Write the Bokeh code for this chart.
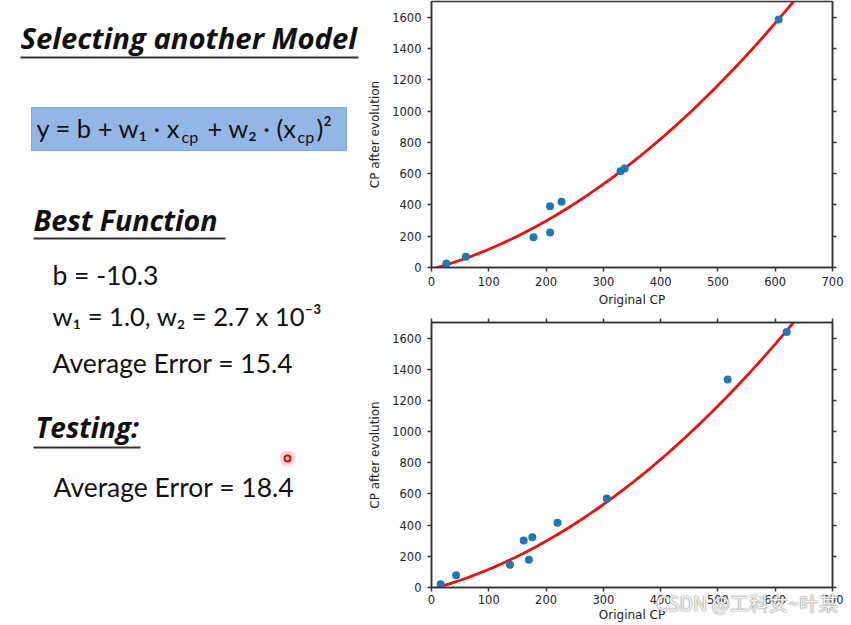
import numpy as np
from bokeh.plotting import figure
from bokeh.layouts import row, column
from bokeh.models import Range1d, LinearAxis, FixedTicker, Div
from bokeh.core.properties import value
from bokeh.embed import file_html
from bokeh.resources import INLINE

# ---- data ----
b_param = -10.3
w1_param = 1.0
w2_param = 2.7e-3
train_err = 15.4
test_err = 18.4

train_x = [26, 60, 178, 207, 207, 227, 330, 337, 606]
train_y = [25, 68, 194, 391, 223, 421, 615, 632, 1585]
test_x = [16, 43, 137, 161, 170, 176, 220, 306, 517, 620]
test_y = [21, 79, 146, 301, 178, 323, 416, 571, 1335, 1639]

x_ticks = [0, 100, 200, 300, 400, 500, 600, 700]
y_ticks = [0, 200, 400, 600, 800, 1000, 1200, 1400, 1600]
x_label = "Original CP"
y_label = "CP after evolution"
watermark = "CSDN @工科女~叶某"

# model curve from the stated parameters
curve_x = np.linspace(0, 700, 141)
curve_y = b_param + w1_param * curve_x + w2_param * curve_x ** 2

FONT = "Lato"
TFONT = "Open Sans"
INK = "#111111"
MID = 0.387  # em distance from baseline to "middle"

# ---- left slide-text panel ----
L = figure(width=362, height=625, x_range=Range1d(0, 362), y_range=Range1d(625, 0),
           x_axis_type=None, y_axis_type=None, toolbar_location=None,
           output_backend="svg", min_border=0, title=None)
L.outline_line_color = None
L.xgrid.visible = False
L.ygrid.visible = False


def txt(x, base, s, size, style="normal", font=FONT, align="left"):
    L.text(x=[x], y=[base - MID * size], text=[s], text_font=value(font),
           text_font_size=f"{size}px", text_font_style=style, text_baseline="middle",
           text_align=align, text_color=INK)


def uline(x0, x1, y):
    L.segment(x0=[x0], y0=[y], x1=[x1], y1=[y], line_color="#333333", line_width=2)


txt(20, 49, "Selecting another Model", 29.3, "bold italic", TFONT)
uline(20, 358, 57)

L.quad(left=[31], right=[346], top=[107], bottom=[150], fill_color="#93b7e5",
       line_color="#7ea6da", line_width=1)
E, SUB = 25.5, 16
txt(180, 137, "y = b + w\u2081 \u00b7 x", E, align="right")
txt(181, 142, "cp", SUB)
txt(296, 137, "+ w\u2082 \u00b7 (x", E, align="right")
txt(297, 142, "cp", SUB)
txt(316, 137, ")\u00b2", E)

txt(33, 230, "Best Function", 28.6, "bold italic", TFONT)
uline(33, 225, 238)

S = 26.5
txt(52, 285, f"b = {b_param}", S)
txt(52, 325, "w\u2081 = 1.0, w\u2082 = 2.7 x 10\u207b\u00b3", 25.6)
txt(52, 373, f"Average Error = {train_err}", S)

txt(35, 437, "Testing:", 28, "bold italic", TFONT)
uline(33, 140, 447)

txt(53, 497, f"Average Error = {test_err}", S)

# laser pointer dot
L.scatter(x=[287], y=[458], size=16, fill_color="#ff2020", fill_alpha=0.18, line_color=None)
L.scatter(x=[287], y=[458], size=6, fill_color=None, line_color="#e00000", line_width=2)


# ---- chart panels ----
def make_plot(px, py, height, top_border, bottom_border, top_axis, lab_so, axlab_so):
    p = figure(width=489, height=height, x_range=Range1d(0, 700), y_range=Range1d(0, 1700),
               toolbar_location=None, output_backend="svg", title=None,
               min_border_left=69, min_border_right=19,
               min_border_top=top_border, min_border_bottom=bottom_border)
    p.xgrid.visible = False
    p.ygrid.visible = False
    p.outline_line_color = "#333333"
    p.outline_line_width = 1.5
    p.background_fill_color = "white"
    p.border_fill_color = "white"

    p.line(curve_x, curve_y, line_color="#e8110f", line_width=2.8)
    p.scatter(px, py, size=8, fill_color="#1f77b4", line_color=None)

    xa = p.xaxis[0]
    ya = p.yaxis[0]
    extra = []
    ra = LinearAxis(ticker=FixedTicker(ticks=y_ticks))
    p.add_layout(ra, "right")
    extra.append(ra)
    if top_axis:
        ta = LinearAxis(ticker=FixedTicker(ticks=x_ticks))
        p.add_layout(ta, "above")
        extra.append(ta)
    xa.ticker = FixedTicker(ticks=x_ticks)
    ya.ticker = FixedTicker(ticks=y_ticks)
    for ax in [xa, ya] + extra:
        ax.axis_line_color = "#333333"
        ax.axis_line_width = 1.5
        ax.major_tick_in = 0
        ax.major_tick_out = 4
        ax.major_tick_line_color = "#333333"
        ax.major_tick_line_width = 1.5
        ax.minor_tick_line_color = None
        ax.major_label_text_font = "DejaVu Sans"
        ax.major_label_text_font_size = "11.5px"
        ax.major_label_text_color = "#222222"
        ax.axis_label_text_font = "DejaVu Sans"
        ax.axis_label_text_font_size = "12px"
        ax.axis_label_text_font_style = "normal"
        ax.axis_label_text_color = "#222222"
    for ax in extra:
        ax.major_label_text_font_size = "0px"
        ax.major_label_standoff = 0
    xa.axis_label = x_label
    xa.major_label_standoff = lab_so
    xa.axis_label_standoff = axlab_so
    ya.axis_label = y_label
    ya.major_label_standoff = 6
    ya.axis_label_standoff = 7
    return p


top = make_plot(train_x, train_y, 310, 1, 43, False, 5, 4)
bot = make_plot(test_x, test_y, 315, 12, 38, True, 3, 1)

wm = Div(text=watermark, width=200, height=24,
         styles={"position": "absolute", "left": "651px", "top": "588px",
                 "font-family": "'Noto Sans CJK SC', 'Noto Sans', sans-serif",
                 "font-size": "19.5px", "line-height": "1", "color": "#f2f2f2",
                 "text-shadow": "0 0 1px #777, 0 0 2px #999", "z-index": "10",
                 "white-space": "nowrap"})

layout = row(L, column(top, bot, spacing=0), wm, spacing=0)

with open("out.html", "w") as f:
    f.write(file_html(layout, INLINE))
